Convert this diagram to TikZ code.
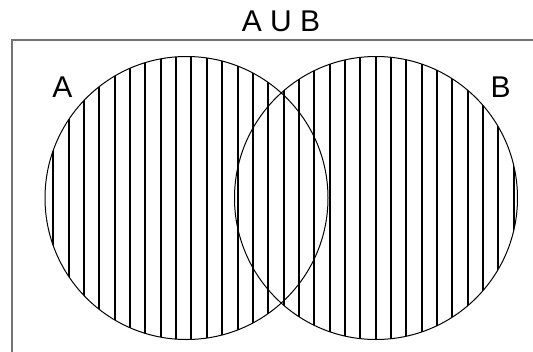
\documentclass[tikz,border=0pt]{standalone}
\usepackage{fontspec}
\setmainfont{Liberation Sans}
\newcommand{\labelfont}{\fontsize{30pt}{36pt}\selectfont}
\tikzset{
  setlabel/.style={font=\labelfont, inner sep=0pt},
  setcircle/.style={circle, draw=black, line width=1pt, minimum size=283pt, inner sep=0pt},
  stripe/.style={line width=2pt, black},
  universe/.style={draw=black!55, line width=1.2pt}
}
\begin{document}
\begin{tikzpicture}[x=1pt,y=-1pt]
\useasboundingbox (0,0) rectangle (533,351);
\clip (0,0) rectangle (533,351);
\draw[universe] (12,40) rectangle (580,400);
\begin{scope}
  \clip (186.5,198) circle (141.5) (376,198) circle (141.5);
  \foreach \k in {0,...,30} \draw[stripe] ({53.3+15.35*\k},40) -- ++(0,320);
\end{scope}
\node[setcircle] (cA) at (186.5,198) {};
\node[setcircle] (cB) at (376,198) {};
\node[setlabel] (title) at (281,21) {A U B};
\node[setlabel] (labA) at (62.5,87) {A};
\node[setlabel] (labB) at (500.5,87) {B};
\end{tikzpicture}
\end{document}
